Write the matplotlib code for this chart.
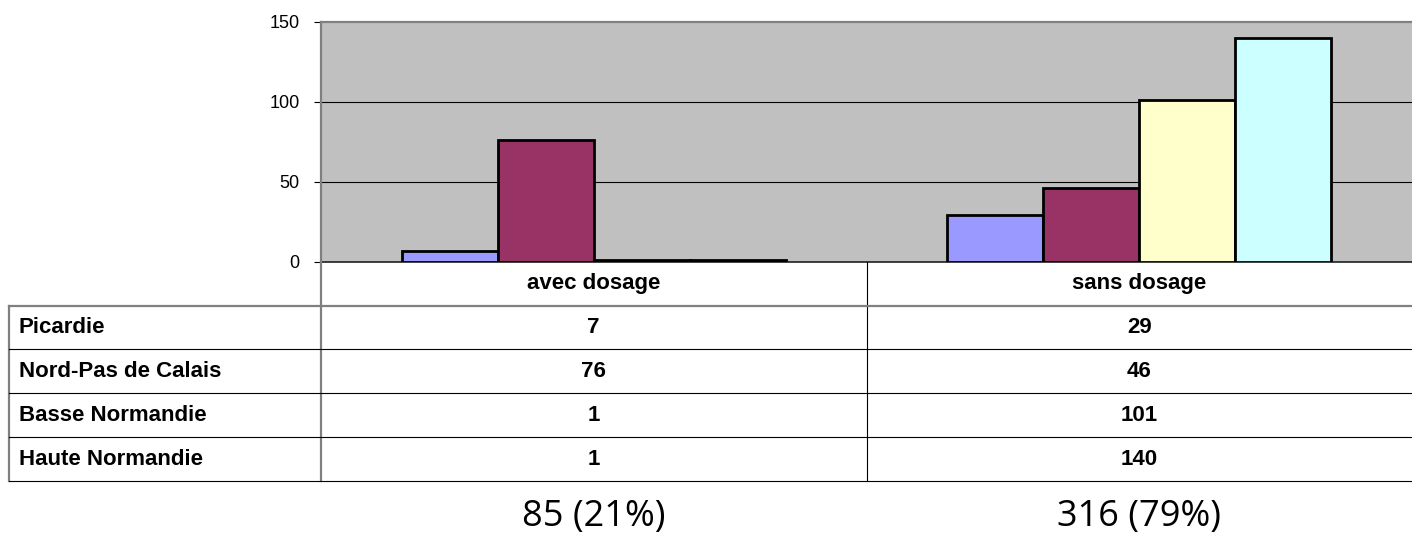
import matplotlib
matplotlib.use("Agg")
import matplotlib.pyplot as plt
import numpy as np

plt.rcParams["font.family"] = ["Liberation Sans", "DejaVu Sans"]

# données du graphique
categories = ["avec dosage", "sans dosage"]
regions = ["Picardie", "Nord-Pas de Calais", "Basse Normandie", "Haute Normandie"]
picardie = [7, 29]
nord_pas_de_calais = [76, 46]
basse_normandie = [1, 101]
haute_normandie = [1, 140]
y_ticks = [0, 50, 100, 150]

series = [picardie, nord_pas_de_calais, basse_normandie, haute_normandie]
colors = ["#9999FF", "#993366", "#FFFFCC", "#CCFFFF"]

W, H = 1412, 539
fig = plt.figure(figsize=(W / 100, H / 100), dpi=100)

# zone du graphique (pixels de la référence)
left, top, bottom = 321 / W, 21.7 / H, 261.7 / H
ax = fig.add_axes([left, 1 - bottom, 1 - left, bottom - top])
ax.set_facecolor("#C0C0C0")

x = np.arange(len(categories))
bar_w = 0.176
for i, (vals, col) in enumerate(zip(series, colors)):
    offs = (i - (len(series) - 1) / 2) * bar_w
    ax.bar(x + offs, vals, bar_w, color=col, edgecolor="black", linewidth=2.0, zorder=3)

ax.set_xlim(-0.5, len(categories) - 0.5)
ax.set_ylim(y_ticks[0], y_ticks[-1])
ax.set_yticks(y_ticks)
ax.set_yticklabels([str(t) for t in y_ticks], fontsize=13)
ax.set_xticks([])
ax.tick_params(axis="y", length=5, width=0.8, pad=10.5, color="black")
for t in y_ticks[1:-1]:
    ax.axhline(t, color="black", linewidth=0.8, zorder=1)
for side in ["top", "left"]:
    ax.spines[side].set_color("#808080")
    ax.spines[side].set_linewidth(1.6)
ax.spines["right"].set_visible(False)
ax.spines["bottom"].set_color("#202020")
ax.spines["bottom"].set_linewidth(1.2)

# tableau de données sous le graphique
tab_left, tab_bottom = 9 / W, 481 / H
tab = fig.add_axes([tab_left, 1 - tab_bottom, 1 - tab_left, tab_bottom - bottom])
tab.axis("off")
units = len(categories) / (1 - left)
x0 = -0.5 - (left - tab_left) * units
x1 = len(categories) - 0.5
n_rows = len(regions) + 1
tab.set_xlim(x0, x1)
tab.set_ylim(n_rows, 0)

kw = dict(clip_on=False)
tab.plot([-0.5, -0.5], [0, n_rows], color="#808080", linewidth=1.6, **kw)
for k in range(1, len(categories)):
    tab.plot([k - 0.5, k - 0.5], [0, n_rows], color="black", linewidth=0.8, **kw)
tab.plot([x0, x0], [1, n_rows], color="#808080", linewidth=1.6, **kw)
tab.plot([x0, x1], [1, 1], color="#808080", linewidth=1.6, **kw)
for r in range(2, n_rows + 1):
    tab.plot([x0, x1], [r, r], color="black", linewidth=0.8, **kw)

for j, cat in enumerate(categories):
    tab.text(j, 0.5, cat, ha="center", va="center", fontsize=16, fontweight="bold")
pad = 10 * units / W
for i, (name, vals) in enumerate(zip(regions, series)):
    tab.text(x0 + pad, i + 1.5, name, ha="left", va="center", fontsize=16, fontweight="bold")
    for j, v in enumerate(vals):
        tab.text(j, i + 1.5, str(v), ha="center", va="center", fontsize=16, fontweight="bold")

# totaux par catégorie
totals = [sum(s[j] for s in series) for j in range(len(categories))]
grand = sum(totals)
for j, tot in enumerate(totals):
    fig.text(ax.transData.transform((j, 0))[0] / W, 0.024,
             f"{tot} ({round(100 * tot / grand)}%)",
             ha="center", va="baseline", fontsize=26, family="Open Sans")

fig.savefig("out.png", dpi=100)
